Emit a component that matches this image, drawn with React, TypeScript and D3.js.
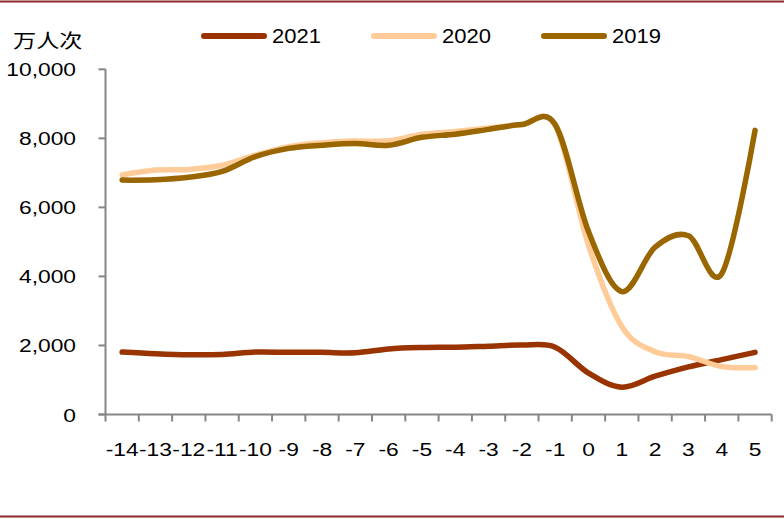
import React from "react";
import * as d3 from "d3";

const categories = ["-14","-13","-12","-11","-10","-9","-8","-7","-6","-5","-4","-3","-2","-1","0","1","2","3","4","5"];
const s2021 = [1810,1760,1730,1740,1810,1800,1800,1790,1900,1940,1950,1980,2010,1950,1200,790,1110,1380,1590,1800];
const s2020 = [6940,7080,7100,7220,7510,7760,7870,7920,7930,8120,8200,8300,8400,8380,4900,2550,1820,1680,1390,1360];
const s2019 = [6790,6800,6870,7040,7470,7710,7800,7850,7800,8030,8120,8260,8400,8400,5300,3560,4850,5180,4080,8230];
const yTicks = [0, 2000, 4000, 6000, 8000, 10000];
const seriesNames = ["2021", "2020", "2019"];
const seriesColors = ["#993300", "#FFCC99", "#996600"];

const FONT = "'Liberation Sans', Arial, sans-serif";
const SX = 1.2;

function SText({ x, y, children, anchor = "start", size = 19, sx = SX, baseline = "auto", font = FONT }: any) {
  return (
    <g transform={`translate(${x},${y}) scale(${sx},1)`}>
      <text x={0} y={0} textAnchor={anchor} dominantBaseline={baseline} fontSize={size} fontFamily={font} fill="#000">
        {children}
      </text>
    </g>
  );
}

export default function App() {
  const W = 784, H = 519;
  const x0 = 105.5, x1 = 771.7;
  const y0 = 414.5, y1 = 69.3;
  const x = d3.scaleBand<string>().domain(categories).range([x0, x1]).padding(0);
  const y = d3.scaleLinear().domain([0, 10000]).range([y0, y1]);
  const fmt = d3.format(",");
  const line = d3.line<number>()
    .x((_, i) => (x(categories[i]) as number) + x.bandwidth() / 2)
    .y((d) => y(d))
    .curve(d3.curveCardinal.tension(0));
  const allSeries = [s2021, s2020, s2019];
  const legendX = [201, 371, 541];
  const tickXs = categories.map((c) => x(c) as number).concat([x1]);

  return (
    <svg width={W} height={H} style={{ position: "absolute", left: 0, top: 0, display: "block", background: "#fff" }}>
      <line x1={0} x2={W} y1={1.5} y2={1.5} stroke="#8C2A2A" strokeWidth={2} />
      <line x1={0} x2={W} y1={516.5} y2={516.5} stroke="#8C2A2A" strokeWidth={2} />

      <SText x={13} y={48} size={19} sx={1.22} font="'Noto Sans CJK SC', sans-serif">万人次</SText>

      {seriesNames.map((n, i) => (
        <g key={n}>
          <line x1={legendX[i] + 3} x2={legendX[i] + 63} y1={36} y2={36} stroke={seriesColors[i]} strokeWidth={6} strokeLinecap="round" />
          <SText x={legendX[i] + 71} y={43} size={20} sx={1.1}>{n}</SText>
        </g>
      ))}

      {/* y axis */}
      <line x1={x0} x2={x0} y1={y1} y2={y0} stroke="#868686" strokeWidth={2} />
      {yTicks.map((t) => (
        <g key={t}>
          <line x1={x0 - 7} x2={x0} y1={y(t)} y2={y(t)} stroke="#868686" strokeWidth={2} />
          <SText x={76} y={y(t) + 7} anchor="end">{fmt(t)}</SText>
        </g>
      ))}

      {/* x axis */}
      <line x1={x0 - 7} x2={x1} y1={y0} y2={y0} stroke="#868686" strokeWidth={2} />
      {tickXs.map((tx, i) => (
        <line key={i} x1={tx} x2={tx} y1={y0} y2={y0 + 7} stroke="#868686" strokeWidth={2} />
      ))}
      {categories.map((c) => (
        <SText key={c} x={(x(c) as number) + x.bandwidth() / 2} y={455.5} anchor="middle">{c}</SText>
      ))}

      {allSeries.map((s, i) => (
        <path key={i} d={line(s) as string} fill="none" stroke={seriesColors[i]} strokeWidth={5.5} strokeLinecap="round" strokeLinejoin="round" />
      ))}
    </svg>
  );
}
